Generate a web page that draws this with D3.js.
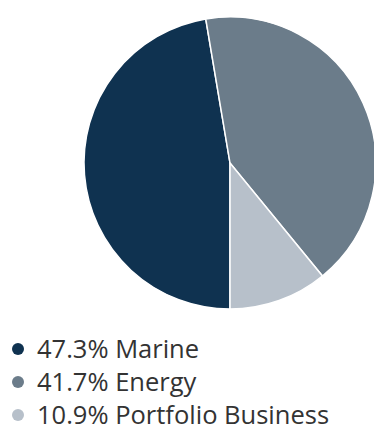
<!DOCTYPE html>
<html>
<head>
<meta charset="utf-8">
<script src="https://cdn.jsdelivr.net/npm/d3@7"></script>
<style>
  body { margin: 0; background: #fff; }
  svg { display: block; }
</style>
</head>
<body>
<script>
const svgWidth = 374;
const svgHeight = 435;

// Data
const categories = ["Marine", "Energy", "Portfolio Business"];
const shares = [47.3, 41.7, 10.9];
const colors = ["#0f3250", "#6b7c8a", "#b7c0ca"];

const svg = d3.select("body")
  .append("svg")
  .attr("width", svgWidth)
  .attr("height", svgHeight);

const cx = 230, cy = 163, radius = 146;

const pie = d3.pie()
  .value(d => d)
  .sort(null)
  .startAngle(Math.PI)
  .endAngle(3 * Math.PI);

const arc = d3.arc()
  .innerRadius(0)
  .outerRadius(radius);

const pieGroup = svg.append("g")
  .attr("transform", `translate(${cx}, ${cy})`);

pieGroup.selectAll("path")
  .data(pie(shares))
  .enter()
  .append("path")
  .attr("d", arc)
  .attr("fill", (d, i) => colors[i])
  .attr("stroke", "#fff")
  .attr("stroke-width", 1.5);

// legend
const legendY = d3.scalePoint()
  .domain(categories)
  .range([349, 415]);

const legend = svg.append("g");

const rows = legend.selectAll("g")
  .data(categories)
  .enter()
  .append("g")
  .attr("transform", d => `translate(0, ${legendY(d)})`);

rows.append("circle")
  .attr("cx", 18)
  .attr("cy", 0)
  .attr("r", 6)
  .attr("fill", (d, i) => colors[i]);

rows.append("text")
  .attr("x", 37)
  .attr("y", 8.5)
  .attr("font-family", "'Open Sans', sans-serif")
  .attr("font-size", 25.5)
  .attr("fill", "#333")
  .text((d, i) => `${shares[i]}% ${d}`);
</script>
</body>
</html>
